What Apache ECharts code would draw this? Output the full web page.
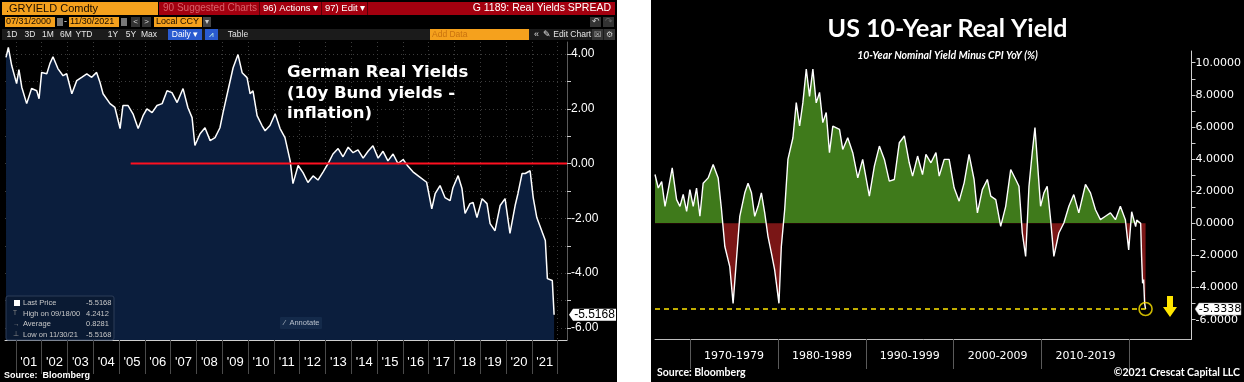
<!DOCTYPE html>
<html><head><meta charset="utf-8">
<script src="https://cdn.jsdelivr.net/npm/echarts@6/dist/echarts.min.js"></script>
<style>
html,body{margin:0;padding:0;background:#fff;width:1244px;height:382px;overflow:hidden}
#ger{position:absolute;left:0;top:0;width:617px;height:382px;background:#000}
#us{position:absolute;left:651px;top:0;width:593px;height:382px;background:#000}
</style></head><body>
<div id="ger"></div><div id="us"></div>
<script>
// ---------------- DATA ----------------
// German real yields (10y Bund yield - inflation), decimal years
const gerYears = [2000.62,2000.71,2000.84,2001.03,2001.12,2001.23,2001.42,2001.61,2001.81,2001.90,2002.00,2002.20,2002.32,2002.44,2002.63,2002.83,2002.97,2003.17,2003.36,2003.55,2003.75,2003.94,2004.13,2004.26,2004.38,2004.65,2004.84,2005.04,2005.15,2005.35,2005.54,2005.74,2005.93,2006.08,2006.28,2006.47,2006.67,2006.86,2007.05,2007.25,2007.48,2007.67,2007.83,2007.94,2008.14,2008.33,2008.53,2008.72,2008.91,2009.03,2009.22,2009.42,2009.61,2009.77,2009.96,2010.08,2010.19,2010.35,2010.54,2010.66,2010.85,2011.05,2011.24,2011.43,2011.63,2011.74,2011.94,2012.13,2012.32,2012.52,2012.71,2012.91,2013.10,2013.29,2013.49,2013.68,2013.88,2014.07,2014.26,2014.46,2014.65,2014.84,2015.04,2015.23,2015.42,2015.62,2015.81,2016.01,2016.20,2016.39,2016.67,2016.92,2017.12,2017.25,2017.44,2017.63,2017.83,2017.94,2018.14,2018.29,2018.41,2018.60,2018.72,2018.87,2019.07,2019.26,2019.38,2019.57,2019.77,2019.96,2020.15,2020.35,2020.46,2020.62,2020.74,2020.93,2021.05,2021.19,2021.42,2021.52,2021.60,2021.79,2021.86];
const gerValues = [3.88,4.24,3.58,2.92,3.43,2.79,2.19,2.74,2.66,2.37,3.33,3.28,3.65,3.90,3.47,3.21,3.28,2.55,3.03,3.15,3.28,3.15,3.33,2.97,2.55,2.19,2.05,1.28,2.12,2.12,1.82,1.28,1.75,2.00,1.86,2.12,2.19,2.66,2.59,2.23,2.74,2.04,1.68,0.66,1.09,1.31,0.84,0.95,1.31,1.86,2.66,3.50,3.98,3.32,3.14,2.55,2.66,1.75,1.39,1.20,1.39,1.82,1.28,0.95,0.11,-0.73,-0.07,-0.33,-0.69,-0.45,-0.60,-0.30,0.00,0.35,0.55,0.25,0.60,0.40,0.50,0.20,0.45,0.65,0.20,0.45,0.10,0.35,0.00,0.15,-0.10,-0.30,-0.50,-0.68,-1.65,-1.10,-0.80,-1.24,-1.35,-0.88,-0.44,-0.91,-1.82,-1.46,-1.42,-1.97,-1.28,-1.46,-2.19,-2.45,-1.53,-1.28,-2.55,-1.53,-1.09,-0.36,-0.36,-0.26,-1.24,-1.97,-2.55,-2.81,-4.20,-4.27,-5.5168];
const gerZeroLineYears = [2005.45, 2022.36];
const gerYearTicks = [2001,2002,2003,2004,2005,2006,2007,2008,2009,2010,2011,2012,2013,2014,2015,2016,2017,2018,2019,2020,2021,2022];
const gerYearLabels = ["'01","'02","'03","'04","'05","'06","'07","'08","'09","'10","'11","'12","'13","'14","'15","'16","'17","'18","'19","'20","'21"];
const gerYTicks = [-6,-5,-4,-3,-2,-1,0,1,2,3,4];
const gerYLabels = [-6,-4,-2,0,2,4];
const gerStats = [["Last Price","-5.5168"],["High on 09/18/00","4.2412"],["Average","0.8281"],["Low on 11/30/21","-5.5168"]];

// US 10-year real yield (10y nominal minus CPI YoY), decimal years
const usYears = [1966.00,1966.37,1966.76,1967.14,1967.51,1967.96,1968.46,1968.84,1969.21,1969.60,1969.97,1970.35,1970.73,1971.11,1971.48,1972.05,1972.62,1973.19,1973.57,1973.95,1974.51,1974.89,1975.27,1975.65,1976.22,1976.59,1976.98,1977.35,1977.73,1978.11,1978.49,1978.86,1979.25,1979.62,1980.11,1980.38,1980.76,1981.13,1981.70,1982.08,1982.46,1982.83,1983.22,1983.59,1983.97,1984.35,1984.73,1985.10,1985.49,1985.86,1986.24,1987.00,1987.37,1987.94,1988.51,1989.08,1989.64,1990.40,1990.97,1991.54,1992.11,1992.67,1993.24,1993.81,1994.38,1994.94,1995.32,1995.89,1996.45,1996.84,1997.41,1997.98,1998.35,1998.92,1999.48,2000.05,2000.62,2001.19,2001.75,2002.32,2002.70,2003.26,2003.83,2004.22,2004.79,2005.35,2005.92,2006.49,2007.06,2007.43,2007.81,2008.19,2008.57,2008.94,2009.25,2009.51,2009.89,2010.27,2010.64,2011.03,2011.40,2011.97,2012.54,2013.11,2013.67,2014.24,2015.00,2015.57,2016.14,2016.70,2017.27,2017.84,2018.41,2018.97,2019.54,2019.92,2020.26,2020.71,2020.83,2021.28,2021.39,2021.50,2021.62,2021.73,2021.84];
const usValues = [3.04,2.20,2.60,1.06,2.10,3.46,1.48,1.06,1.80,0.75,2.10,1.06,2.20,0.44,2.50,2.83,3.67,2.83,0.85,-1.44,-2.69,-4.98,-2.27,0.44,1.90,2.50,1.90,0.44,1.06,1.90,0.65,-0.81,-1.85,-2.90,-4.98,-1.44,0.85,3.98,5.33,7.52,6.06,7.50,9.60,7.90,9.60,7.50,8.15,6.27,6.90,4.40,6.06,5.85,4.60,5.33,4.40,2.83,3.98,1.69,3.56,4.81,3.98,2.63,2.73,5.02,5.44,3.77,2.94,4.19,3.04,4.29,3.77,4.40,2.94,3.98,3.98,2.21,1.38,2.52,4.29,2.73,0.65,2.10,2.73,1.69,1.48,-0.19,1.06,3.35,2.73,2.31,-0.60,-2.06,2.31,4.40,5.96,3.98,1.06,1.90,2.31,0.23,-2.06,-0.60,0.02,1.06,1.79,0.65,2.42,1.90,0.85,0.23,0.44,0.65,0.23,1.06,0.23,-1.65,0.72,-0.20,0.20,0.00,-2.08,-3.73,-3.50,-4.96,-5.3338];
const usDecadeTicks = [1970,1980,1990,2000,2010,2020];
const usDecadeLabels = ["1970-1979","1980-1989","1990-1999","2000-2009","2010-2019"];
const usYTicks = [-6,-5,-4,-3,-2,-1,0,1,2,3,4,5,6,7,8,9,10];
const usYLabels = [-6,-4,-2,0,2,4,6,8,10];

// ---------------- GERMAN PANEL ----------------
const BB = '"Liberation Sans", Arial, sans-serif';
const ORANGE = '#f5a11d';
function txt(x, y, s, size, color, opt) {
  opt = opt || {};
  return {type:'text', x:x, y:y, silent:true, z: 100,
    style:{text:s, fill:color, font:(opt.weight||'normal')+' '+size+'px '+(opt.family||BB),
      textAlign:opt.align||'left', textVerticalAlign:'middle'}};
}
function box(x, y, w, h, fill, stroke) {
  return {type:'rect', silent:true, z: 90, shape:{x:x,y:y,width:w,height:h},
    style:{fill:fill, stroke:stroke||null, lineWidth:stroke?1:0}};
}

const gerGraphics = [
  box(2,2,156,13,ORANGE), txt(6,8.5,'.GRYIELD Comdty',11,'#1a0d00'),
  box(159,2,456,13,'#a3000f'),
  txt(163,8.5,'90 Suggested Charts',10,'#d8606a'),
  box(259,2,1,13,'#5a0008'),
  txt(263,8.5,'96) Actions ▾',9.5,'#ffffff'),
  box(321,2,1,13,'#5a0008'),
  txt(325,8.5,'97) Edit ▾',9.5,'#ffffff'),
  box(367,2,1,13,'#5a0008'),
  txt(611,8.5,'G 1189: Real Yields SPREAD',10.5,'#ffffff',{align:'right'}),
  box(5,17,50,10,ORANGE), txt(6,22,'07/31/2000',9,'#1a0d00'),
  box(57,18,6,8,'#777'),
  txt(64,22,'-',9,'#ffffff'),
  box(69,17,50,10,ORANGE), txt(70,22,'11/30/2021',9,'#1a0d00'),
  box(121,18,6,8,'#777'),
  box(131,17,9,10,'#333'), txt(135.5,22,'<',8,'#ddd',{align:'center'}),
  box(142,17,9,10,'#333'), txt(146.5,22,'>',8,'#ddd',{align:'center'}),
  box(154,17,48,10,ORANGE), txt(156,22,'Local CCY',9,'#1a0d00'),
  box(203,17,8,10,'#444'), txt(207,22,'▾',8,'#ccc',{align:'center'}),
  box(590,17,11,10,'#333'), txt(595.5,22,'↶',9,'#ccc',{align:'center'}),
  box(603,17,11,10,'#333'), txt(608.5,22,'↷',9,'#666',{align:'center'}),
  box(2,29,613,11,'#1b1b1b'),
  txt(12,34.5,'1D',8.5,'#e6e6e6',{align:'center'}),
  txt(30,34.5,'3D',8.5,'#e6e6e6',{align:'center'}),
  txt(48,34.5,'1M',8.5,'#e6e6e6',{align:'center'}),
  txt(66,34.5,'6M',8.5,'#e6e6e6',{align:'center'}),
  txt(84,34.5,'YTD',8.5,'#e6e6e6',{align:'center'}),
  txt(113,34.5,'1Y',8.5,'#e6e6e6',{align:'center'}),
  txt(131,34.5,'5Y',8.5,'#e6e6e6',{align:'center'}),
  txt(149,34.5,'Max',8.5,'#e6e6e6',{align:'center'}),
  box(168,29,34,11,'#2a5bd0'), txt(185,34.5,'Daily ▾',8.5,'#ffffff',{align:'center'}),
  box(205,29,13,11,'#2a5bd0'), txt(211.5,34.5,'⩘',8,'#cfe',{align:'center'}),
  txt(238,34.5,'Table',8.5,'#e6e6e6',{align:'center'}),
  box(430,29,99,11,ORANGE), txt(432,34.5,'Add Data',8.5,'#c9720e'),
  txt(534,34.5,'«',9,'#ddd'),
  txt(543,34.5,'✎ Edit Chart',8.5,'#e6e6e6'),
  box(592,29,11,11,'#333'), txt(597.5,34.5,'☒',8,'#ccc',{align:'center'}),
  box(604,29,11,11,'#333'), txt(609.5,34.5,'⚙',8,'#ccc',{align:'center'}),
  txt(287,72.7,'German Real Yields',16.5,'#ffffff',{weight:'bold',family:'"DejaVu Sans", sans-serif'}),
  txt(287,93.3,'(10y Bund yields -',16.5,'#ffffff',{weight:'bold',family:'"DejaVu Sans", sans-serif'}),
  txt(287,113.6,'inflation)',16.5,'#ffffff',{weight:'bold',family:'"DejaVu Sans", sans-serif'}),
  {type:'rect', silent:true, z:90, shape:{x:6,y:296,width:108,height:44,r:2},
    style:{fill:'#0a1a33', stroke:'#2d3d58', lineWidth:1}},
  box(14,300,6,6,'#ffffff'),
  txt(23,303,gerStats[0][0],7.5,'#c8c8c8'), txt(86,303,gerStats[0][1],7.5,'#c8c8c8'),
  txt(13,313.5,'T',6.5,'#888'), txt(23,313.5,gerStats[1][0],7.5,'#c8c8c8'), txt(86,313.5,gerStats[1][1],7.5,'#c8c8c8'),
  txt(13,324,'→',6.5,'#888'), txt(23,324,gerStats[2][0],7.5,'#c8c8c8'), txt(86,324,gerStats[2][1],7.5,'#c8c8c8'),
  txt(13,334.5,'⊥',6.5,'#888'), txt(23,334.5,gerStats[3][0],7.5,'#c8c8c8'), txt(86,334.5,gerStats[3][1],7.5,'#c8c8c8'),
  {type:'rect', silent:true, z:90, shape:{x:280,y:317,width:42,height:12,r:1}, style:{fill:'#142a4a'}},
  txt(284,323,'⁄  Annotate',7.5,'#b8c0cc'),
  txt(4,376,'Source:  Bloomberg',9,'#ffffff',{weight:'bold'})
];

const gerChart = echarts.init(document.getElementById('ger'), null, {renderer:'canvas'});
gerChart.setOption({
  backgroundColor:'#000000',
  animation:false,
  grid:{left:5, right:50, top:42, bottom:42},
  xAxis:{type:'value', min:2000.58, max:2022.36,
    axisLine:{show:true, onZero:false, lineStyle:{color:'#cfcfcf', width:1}},
    axisTick:{show:true, customValues:gerYearTicks, length:34, lineStyle:{color:'#4a4a4a'}},
    axisLabel:{customValues:gerYearTicks.slice(0,-1).map(function(v){return v+0.5;}),
      formatter:function(v){return gerYearLabels[Math.round(v-0.5)-2001];},
      color:'#ffffff', fontSize:13, fontFamily:BB, margin:16},
    splitLine:{show:true, lineStyle:{color:'#3c3c3c', type:[1,3]}}},
  yAxis:{type:'value', position:'right', min:-6.44, max:4.44,
    axisLine:{show:true, lineStyle:{color:'#5a5a5a'}},
    axisTick:{show:true, customValues:gerYTicks, length:4, lineStyle:{color:'#cccccc'}},
    axisLabel:{customValues:gerYLabels, formatter:function(v){return v.toFixed(2);}, color:'#ffffff', fontSize:12, fontFamily:BB, margin:4},
    splitLine:{show:true, lineStyle:{color:'#3c3c3c', type:[1,3]}}},
  series:[
    {type:'line', data:gerYears.map(function(y,i){return [y, gerValues[i]];}), showSymbol:false,
      lineStyle:{color:'#ffffff', width:1.5}, areaStyle:{color:'#0b1e3d', opacity:1, origin:'start'}, z:3},
    {type:'line', data:gerZeroLineYears.map(function(y){return [y, 0];}), showSymbol:false,
      lineStyle:{color:'#ff1020', width:2}, z:4}
  ],
  graphic:gerGraphics
});
(function(){
  var last = gerValues.length-1;
  var p = gerChart.convertToPixel({gridIndex:0}, [2022.36, gerValues[last]]);
  var y = p[1];
  gerChart.setOption({graphic:[
    {type:'polygon', id:'gerLastBox', silent:true, z:110,
      shape:{points:[[569,y],[573,y-6],[616,y-6],[616,y+6],[573,y+6]]}, style:{fill:'#ffffff'}},
    {type:'text', id:'gerLastTxt', silent:true, z:111, x:594.5, y:y,
      style:{text:gerValues[last].toFixed(4), fill:'#000', font:'12px '+BB, textAlign:'center', textVerticalAlign:'middle'}}
  ]});
})();

// ---------------- US PANEL ----------------
const CAL = '"Lato", "Open Sans", sans-serif';
const VER = '"DejaVu Sans", sans-serif';
const usChart = echarts.init(document.getElementById('us'), null, {renderer:'canvas'});
const usLast = usValues.length-1;
usChart.setOption({
  backgroundColor:'#000000',
  animation:false,
  grid:{left:4, right:51, top:51, bottom:43},
  xAxis:{type:'value', min:1966.0, max:2027.07,
    axisLine:{show:true, onZero:false, lineStyle:{color:'#bdbdbd'}},
    axisTick:{show:true, customValues:usDecadeTicks, length:30, lineStyle:{color:'#5a5a5a'}},
    axisLabel:{customValues:usDecadeTicks.slice(0,-1).map(function(v){return v+5;}),
      formatter:function(v){return usDecadeLabels[Math.round((v-1975)/10)];},
      color:'#ffffff', fontSize:11, fontFamily:VER, margin:12},
    splitLine:{show:false}},
  yAxis:{type:'value', position:'right', min:-7.2, max:10.73,
    axisLine:{show:true, lineStyle:{color:'#d0d0d0'}},
    axisTick:{show:true, customValues:usYTicks, length:4, lineStyle:{color:'#d0d0d0'}},
    axisLabel:{customValues:usYLabels, formatter:function(v){return v.toFixed(4);}, color:'#ffffff', fontSize:11, fontFamily:VER, margin:4},
    splitLine:{show:false}},
  visualMap:{type:'piecewise', show:false, seriesIndex:0, dimension:1,
    pieces:[{gte:-50, lt:0, color:'#7a1616'},{gte:0, lte:50, color:'#3f7a1b'}]},
  series:[
    {type:'line', data:usYears.map(function(y,i){return [y, usValues[i]];}), showSymbol:false,
      lineStyle:{width:0}, areaStyle:{opacity:1}, z:2},
    {type:'line', data:usYears.map(function(y,i){return [y, usValues[i]];}), showSymbol:false,
      lineStyle:{color:'#ffffff', width:1.4}, z:3},
    {type:'line', data:[[usYears[0], usValues[usLast]],[usYears[usLast], usValues[usLast]]], showSymbol:false,
      lineStyle:{color:'#ffe600', width:1.5, type:[5,4]}, z:4},
    {type:'scatter', data:[[usYears[usLast], usValues[usLast]]], symbol:'circle', symbolSize:13,
      itemStyle:{color:'rgba(0,0,0,0)', borderColor:'#ffe600', borderWidth:1.6}, z:5}
  ],
  graphic:[
    {type:'text', silent:true, left:'center', top:16, style:{text:'US 10-Year Real Yield', fill:'#ffffff', font:'bold 25px '+CAL}},
    {type:'text', silent:true, left:'center', top:50, style:{text:'10-Year Nominal Yield Minus CPI YoY (%)', fill:'#ffffff', font:'italic bold 10.5px '+CAL}},
    txt(6,373,'Source: Bloomberg',10.5,'#ffffff',{weight:'bold',family:CAL}),
    txt(589,373,'©2021 Crescat Capital LLC',10.5,'#ffffff',{weight:'bold',family:CAL,align:'right'}),
    {type:'polygon', silent:true, z:100, shape:{points:[[516,296],[522,296],[522,307],[526,307],[519,317],[512,307],[516,307]]}, style:{fill:'#ffe600'}}
  ]
});
(function(){
  var p = usChart.convertToPixel({gridIndex:0}, [2027.07, usValues[usLast]]);
  var y = p[1];
  usChart.setOption({graphic:[
    {type:'polygon', id:'usLastBox', silent:true, z:110,
      shape:{points:[[544,y],[548,y-6],[590,y-6],[590,y+6],[548,y+6]]}, style:{fill:'#ffffff', stroke:'#999', lineWidth:0.5}},
    {type:'text', id:'usLastTxt', silent:true, z:111, x:569, y:y,
      style:{text:usValues[usLast].toFixed(4), fill:'#000', font:'11px '+VER, textAlign:'center', textVerticalAlign:'middle'}}
  ]});
})();
</script>
</body></html>
